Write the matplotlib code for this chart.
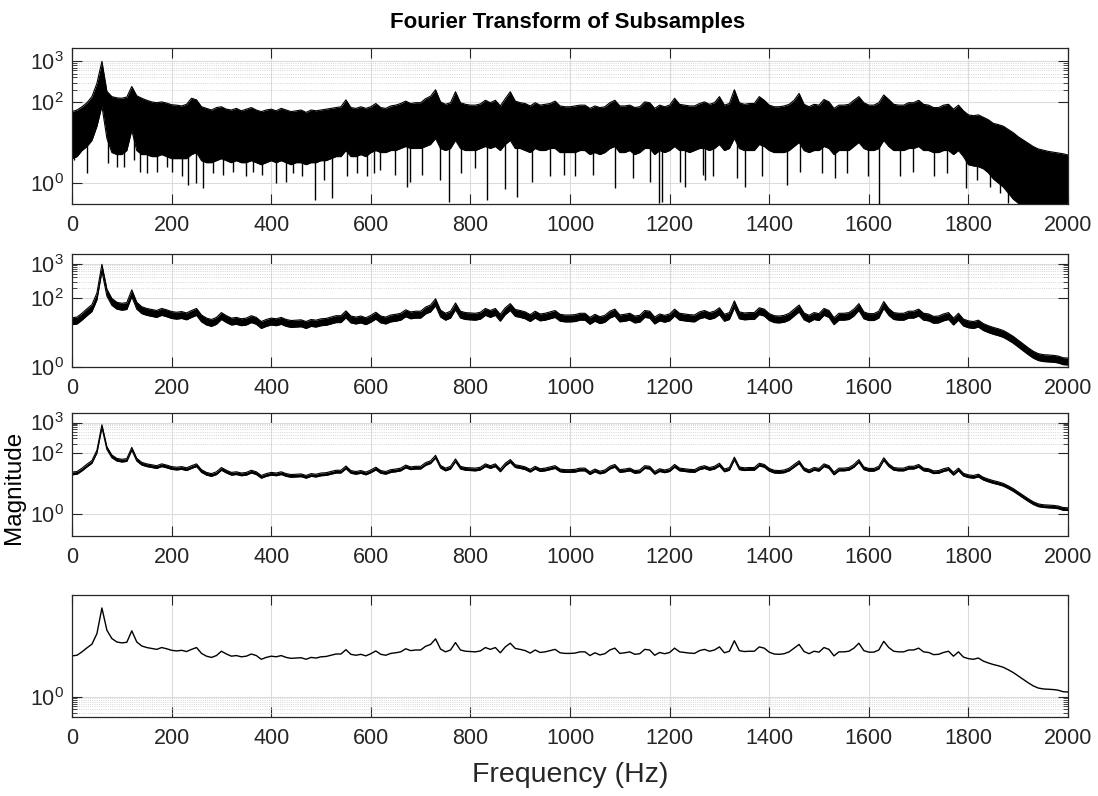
import numpy as np
import matplotlib.pyplot as plt
from matplotlib.ticker import FixedLocator, NullFormatter

plt.rcParams['font.family'] = ['Liberation Sans', 'DejaVu Sans']
plt.rcParams['mathtext.default'] = 'regular'

# frequency grid (Hz), 10 Hz steps
freq = np.arange(0, 2001, 10)

# averaged spectrum, log10 magnitude (bottom panel, also centre of the others)
mean_log = [
    1.33, 1.35, 1.46, 1.59, 1.71, 2.05, 2.88, 2.16, 1.89, 1.78,
    1.75, 1.77, 2.14, 1.78, 1.65, 1.60, 1.57, 1.54, 1.60, 1.56,
    1.51, 1.49, 1.51, 1.47, 1.54, 1.60, 1.41, 1.32, 1.28, 1.34,
    1.48, 1.39, 1.32, 1.34, 1.30, 1.32, 1.39, 1.34, 1.22, 1.28,
    1.32, 1.30, 1.34, 1.28, 1.25, 1.26, 1.27, 1.22, 1.28, 1.26,
    1.30, 1.31, 1.35, 1.39, 1.39, 1.53, 1.38, 1.35, 1.38, 1.33,
    1.40, 1.49, 1.38, 1.35, 1.41, 1.43, 1.46, 1.56, 1.50, 1.52,
    1.52, 1.64, 1.70, 1.88, 1.55, 1.46, 1.52, 1.76, 1.52, 1.48,
    1.47, 1.46, 1.49, 1.60, 1.54, 1.60, 1.43, 1.62, 1.74, 1.57,
    1.54, 1.50, 1.42, 1.52, 1.44, 1.46, 1.50, 1.54, 1.43, 1.41,
    1.41, 1.42, 1.46, 1.46, 1.34, 1.43, 1.36, 1.40, 1.52, 1.58,
    1.41, 1.43, 1.46, 1.38, 1.40, 1.54, 1.52, 1.35, 1.44, 1.40,
    1.44, 1.58, 1.46, 1.44, 1.42, 1.41, 1.50, 1.54, 1.48, 1.52,
    1.62, 1.43, 1.48, 1.82, 1.50, 1.47, 1.48, 1.48, 1.62, 1.58,
    1.45, 1.39, 1.38, 1.40, 1.46, 1.58, 1.70, 1.47, 1.40, 1.48,
    1.45, 1.60, 1.54, 1.33, 1.46, 1.46, 1.48, 1.58, 1.74, 1.50,
    1.45, 1.45, 1.52, 1.80, 1.60, 1.48, 1.46, 1.46, 1.52, 1.52,
    1.58, 1.46, 1.44, 1.37, 1.38, 1.44, 1.48, 1.32, 1.46, 1.29,
    1.24, 1.22, 1.26, 1.16, 1.10, 1.05, 1.01, 0.96, 0.88, 0.79,
    0.68, 0.57, 0.46, 0.36, 0.29, 0.26, 0.25, 0.24, 0.22, 0.17,
    0.16,
]

# top panel: upper edge of the bundle of traces (log10)
p1_hi = [
    1.76, 1.80, 1.88, 1.98, 2.13, 2.46, 3.00, 2.26, 2.13, 2.10,
    2.09, 2.12, 2.38, 2.15, 2.09, 2.04, 2.00, 1.98, 2.00, 1.97,
    1.93, 1.92, 1.90, 1.94, 2.09, 2.05, 1.88, 1.84, 1.80, 1.86,
    1.88, 1.82, 1.80, 1.84, 1.78, 1.82, 1.86, 1.80, 1.76, 1.80,
    1.82, 1.78, 1.84, 1.80, 1.76, 1.78, 1.80, 1.74, 1.80, 1.78,
    1.80, 1.82, 1.84, 1.86, 1.88, 2.05, 1.86, 1.84, 1.88, 1.84,
    1.88, 1.96, 1.86, 1.84, 1.90, 1.92, 1.96, 2.02, 1.96, 1.98,
    1.98, 2.08, 2.14, 2.30, 2.00, 1.94, 1.98, 2.25, 1.98, 1.94,
    1.92, 1.92, 1.95, 2.04, 1.98, 2.04, 1.90, 2.08, 2.25, 2.02,
    1.98, 1.96, 1.90, 1.98, 1.92, 1.94, 1.96, 2.02, 1.90, 1.88,
    1.88, 1.90, 1.92, 1.92, 1.84, 1.90, 1.86, 1.88, 1.98, 2.04,
    1.90, 1.90, 1.92, 1.86, 1.88, 2.00, 1.98, 1.84, 1.92, 1.88,
    1.92, 2.09, 1.94, 1.92, 1.90, 1.90, 1.96, 2.00, 1.94, 1.98,
    2.13, 1.92, 1.96, 2.30, 1.98, 1.94, 1.96, 1.96, 2.13, 2.04,
    1.92, 1.88, 1.88, 1.90, 1.94, 2.04, 2.21, 1.94, 1.88, 1.94,
    1.92, 2.06, 2.00, 1.84, 1.92, 1.92, 1.94, 2.04, 2.13, 1.98,
    1.92, 1.92, 1.98, 2.17, 2.06, 1.94, 1.92, 1.92, 1.98, 1.98,
    2.04, 1.94, 1.92, 1.86, 1.86, 1.92, 1.94, 1.82, 1.92, 1.78,
    1.68, 1.66, 1.68, 1.62, 1.56, 1.47, 1.44, 1.40, 1.32, 1.24,
    1.14, 1.06, 0.98, 0.90, 0.84, 0.81, 0.78, 0.76, 0.74, 0.72,
    0.69,
]

# top panel: lower edge of the dense part of the bundle (log10)
p1_lo = [
    0.60, 0.65, 0.80, 0.90, 1.05, 1.40, 1.90, 1.10, 0.75, 0.70,
    0.70, 0.80, 1.30, 0.80, 0.70, 0.70, 0.65, 0.65, 0.70, 0.65,
    0.60, 0.60, 0.60, 0.60, 0.70, 0.75, 0.55, 0.50, 0.50, 0.55,
    0.60, 0.55, 0.50, 0.55, 0.50, 0.50, 0.55, 0.50, 0.45, 0.50,
    0.55, 0.50, 0.55, 0.50, 0.45, 0.50, 0.50, 0.45, 0.50, 0.50,
    0.55, 0.55, 0.60, 0.65, 0.65, 0.80, 0.65, 0.65, 0.70, 0.65,
    0.75, 0.80, 0.75, 0.75, 0.80, 0.80, 0.85, 0.90, 0.85, 0.85,
    0.85, 0.90, 0.95, 1.10, 0.85, 0.80, 0.85, 1.05, 0.85, 0.80,
    0.80, 0.80, 0.85, 0.90, 0.85, 0.90, 0.80, 0.95, 1.05, 0.85,
    0.85, 0.80, 0.75, 0.85, 0.80, 0.80, 0.85, 0.85, 0.75, 0.75,
    0.75, 0.75, 0.80, 0.80, 0.70, 0.75, 0.70, 0.75, 0.85, 0.90,
    0.75, 0.75, 0.80, 0.70, 0.75, 0.85, 0.85, 0.70, 0.80, 0.75,
    0.80, 0.90, 0.80, 0.80, 0.75, 0.80, 0.85, 0.85, 0.80, 0.85,
    0.95, 0.80, 0.85, 1.10, 0.85, 0.80, 0.80, 0.80, 0.95, 0.90,
    0.80, 0.75, 0.75, 0.75, 0.80, 0.90, 1.00, 0.80, 0.75, 0.80,
    0.80, 0.90, 0.85, 0.70, 0.80, 0.80, 0.80, 0.90, 1.00, 0.85,
    0.80, 0.80, 0.85, 1.05, 0.90, 0.80, 0.80, 0.80, 0.85, 0.85,
    0.90, 0.80, 0.80, 0.75, 0.75, 0.80, 0.80, 0.70, 0.80, 0.65,
    0.45, 0.42, 0.40, 0.35, 0.25, 0.10, 0.00, -0.10, -0.25, -0.40,
    -0.50, -0.60, -0.60, -0.60, -0.60, -0.60, -0.60, -0.60, -0.60, -0.60,
    -0.60,
]

# top panel: deep single-trace dips (Hz, log10 of the lowest point)
spike_f = [3, 9, 31, 72, 91, 105, 125, 137, 150, 170, 190, 200, 220, 232, 249,
           262, 284, 304, 324, 349, 364, 381, 410, 429, 444, 461, 488, 505, 523,
           552, 572, 592, 606, 618, 649, 672, 679, 702, 739, 756, 782, 809, 833,
           869, 893, 923, 960, 987, 1010, 1047, 1090, 1127, 1161, 1179, 1184,
           1221, 1231, 1268, 1271, 1288, 1335, 1351, 1385, 1435, 1462, 1505,
           1532, 1556, 1599, 1620, 1663, 1689, 1730, 1756, 1796, 1817, 1843,
           1863, 1880, 1893]
spike_d = [0.57, 0.69, 0.24, 0.49, 0.40, 0.40, 0.57, 0.28, 0.24, 0.28, 0.40, 0.28,
           0.16, -0.05, -0.01, -0.13, 0.24, 0.20, 0.28, 0.16, 0.28, 0.20, -0.01,
           0.03, 0.24, 0.16, -0.42, 0.07, -0.38, 0.16, 0.24, 0.16, 0.24, 0.32,
           0.20, -0.09, 0.03, 0.20, 0.07, -0.46, 0.24, 0.36, -0.42, -0.15, -0.34,
           0.03, 0.16, 0.20, 0.16, 0.20, -0.13, 0.12, 0.03, -0.50, -0.46, 0.03,
           -0.09, 0.20, 0.07, 0.16, 0.12, -0.09, 0.16, -0.05, 0.28, 0.24, 0.12,
           0.24, 0.16, -0.54, 0.16, 0.28, 0.16, 0.24, -0.13, 0.07, -0.09, -0.26,
           -0.50, -0.34]

# half width of the trace bundle in panels 2 and 3 (decades)
p2_spread = 0.10
p3_spread = 0.045

xticks = list(range(0, 2001, 200))
ylims_log = [(-0.52, 3.33), (0.0, 3.28), (-0.72, 3.31), (-0.65, 3.30)]
ytick_sets = [[1, 100, 1000], [1, 100, 1000], [1, 100, 1000], [1]]
ytick_labels = {1: '$10^0$', 100: '$10^2$', 1000: '$10^3$'}
minor_hi = [200, 300, 400, 500, 600, 700, 800, 900]
minor_lo = [0.3, 0.4, 0.5, 0.6, 0.7, 0.8, 0.9]
minor_sets = [minor_hi, minor_hi, minor_hi, minor_lo]

# axes boxes in figure fractions
boxes = [
    [0.0656, 0.7437, 0.9071, 0.1960],
    [0.0656, 0.5389, 0.9071, 0.1420],
    [0.0656, 0.3266, 0.9071, 0.1545],
    [0.0656, 0.0992, 0.9071, 0.1533],
]

dark = '#262626'
m = np.array(mean_log)

fig = plt.figure(figsize=(10.98, 7.96), dpi=100)
axes = [fig.add_axes(b) for b in boxes]

for i, ax in enumerate(axes):
    ax.set_yscale('log')
    ax.set_xlim(0, 2000)
    ax.set_ylim(10 ** ylims_log[i][0], 10 ** ylims_log[i][1])
    ax.set_xticks(xticks)
    ax.set_xticklabels([str(t) for t in xticks])
    ax.set_yticks(ytick_sets[i])
    ax.set_yticklabels([ytick_labels[t] for t in ytick_sets[i]])
    ax.yaxis.set_minor_locator(FixedLocator(minor_sets[i]))
    ax.yaxis.set_minor_formatter(NullFormatter())
    ax.set_axisbelow(True)
    ax.grid(True, which='major', color='#dcdcdc', lw=0.8)
    ax.grid(True, which='minor', axis='y', color='#c8c8c8', lw=0.6, ls=':')
    ax.tick_params(which='major', direction='in', top=True, right=True,
                   length=7, width=0.8, color=dark, labelcolor=dark,
                   labelsize=15.5)
    ax.tick_params(axis='x', which='major', pad=8)
    ax.tick_params(axis='y', which='major', pad=6)
    ax.tick_params(which='minor', direction='in', left=True, right=True,
                   length=3.5, width=0.6, color=dark)
    for s in ax.spines.values():
        s.set_color(dark)
        s.set_linewidth(0.9)

# panel 1: all subsamples
ax = axes[0]
ax.fill_between(freq, 10 ** np.array(p1_lo), 10 ** np.array(p1_hi),
                color='black', lw=0)
ax.plot(freq, 10 ** np.array(p1_hi), color='black', lw=0.8)
ax.plot(freq, 10 ** np.array(p1_lo), color='black', lw=0.8)
ax.vlines(spike_f, 10 ** np.array(spike_d),
          10 ** np.interp(spike_f, freq, m), color='black', lw=1.0)

# panels 2 and 3: fewer, longer subsamples
for ax, s in [(axes[1], p2_spread), (axes[2], p3_spread)]:
    ax.fill_between(freq, 10 ** (m - s), 10 ** (m + s), color='black', lw=0)
    ax.plot(freq, 10 ** (m + s), color='black', lw=0.8)
    ax.plot(freq, 10 ** (m - s), color='black', lw=0.8)

# panel 4: full record
axes[3].plot(freq, 10 ** m, color='black', lw=1.0)

fig.text(0.517, 0.972, 'Fourier Transform of Subsamples', ha='center',
         va='center', fontsize=16, fontweight='bold', color='black')
fig.text(0.519, 0.026, 'Frequency (Hz)', ha='center', va='center',
         fontsize=20.5, color=dark)
fig.text(0.013, 0.388, 'Magnitude', ha='center', va='center', rotation=90,
         fontsize=17.5, color='black')

fig.savefig('out.png', dpi=100)
